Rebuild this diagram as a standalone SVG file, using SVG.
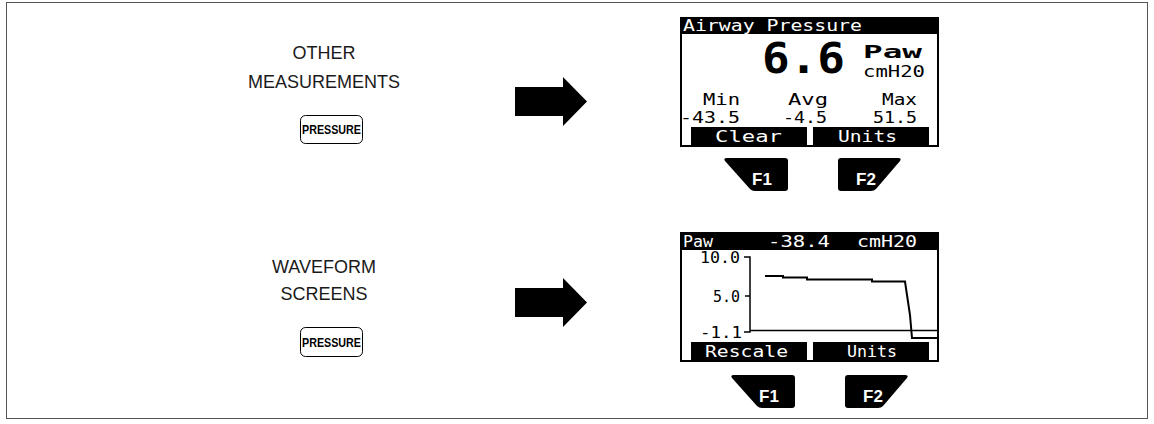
<svg xmlns="http://www.w3.org/2000/svg" width="1154" height="424" viewBox="0 0 1154 424">
<style>
.lbl{font-family:"Liberation Sans",Arial,sans-serif;font-size:18px;fill:#1a1a1a;text-anchor:middle}
.pb{font-family:"Liberation Sans",Arial,sans-serif;font-size:12.5px;font-weight:bold;fill:#000}
.mono{font-family:"DejaVu Sans Mono","Liberation Mono",monospace;font-size:15px;fill:#000}
.w{fill:#fff}
.fk{font-family:"Liberation Sans",Arial,sans-serif;font-size:17px;font-weight:bold;fill:#fff;text-anchor:middle}
.scr{fill:#fff;stroke:#000;stroke-width:2}
.ln{fill:none;stroke:#000;stroke-width:1.5}
.wave{fill:none;stroke:#000;stroke-width:2}
</style>
<defs>
<path id="f1" d="M727,158 H785 Q788,158 788,161 V188 Q788,191 785,191 H755 Q752,191 750,189 L725,161 Q723,158 727,158 Z"/>
<path id="f2" d="M841,158 H898 Q902,158 900,161 L876,189 Q874,191 871,191 H841 Q838,191 838,188 V161 Q838,158 841,158 Z"/>
<polygon id="arrow" points="515,87 563,87 563,77 587,101.5 563,126 563,116 515,116"/>
</defs>
<rect x="0" y="0" width="1154" height="424" fill="#fff"/>
<rect x="6.5" y="2.5" width="1141" height="416" fill="none" stroke="#555" stroke-width="1"/>

<g id="label-other">
<text class="lbl" x="324" y="59">OTHER</text>
<text class="lbl" x="324" y="88">MEASUREMENTS</text>
</g>
<g id="btn-pressure-1">
<rect x="300.5" y="115.5" width="62" height="28" rx="5" fill="#fff" stroke="#000" stroke-width="1"/>
<text class="pb" x="302" y="134" textLength="59" lengthAdjust="spacingAndGlyphs">PRESSURE</text>
</g>
<g id="label-waveform">
<text class="lbl" x="324" y="273">WAVEFORM</text>
<text class="lbl" x="324" y="300">SCREENS</text>
</g>
<g id="btn-pressure-2">
<rect x="300.5" y="327.5" width="62" height="29" rx="5" fill="#fff" stroke="#000" stroke-width="1"/>
<text class="pb" x="302" y="346.5" textLength="59" lengthAdjust="spacingAndGlyphs">PRESSURE</text>
</g>

<g id="connectors">
<use href="#arrow"/>
<use href="#arrow" transform="translate(0,201)"/>
</g>

<g id="screen-pressure">
<rect class="scr" x="681" y="18" width="257" height="128"/>
<rect x="680" y="17" width="259" height="17" fill="#000"/>
<text class="mono w" x="683" y="31" textLength="179" lengthAdjust="spacingAndGlyphs">Airway Pressure</text>
<text x="762" y="73" font-family="DejaVu Sans Mono,monospace" font-weight="bold" font-size="42" textLength="83" lengthAdjust="spacingAndGlyphs">6.6</text>
<text x="863" y="58" font-family="DejaVu Sans Mono,monospace" font-weight="bold" font-size="18" textLength="59" lengthAdjust="spacingAndGlyphs">Paw</text>
<text class="mono" x="863" y="77" textLength="62" lengthAdjust="spacingAndGlyphs">cmH20</text>
<text class="mono" x="703" y="105" textLength="37" lengthAdjust="spacingAndGlyphs">Min</text>
<text class="mono" x="788" y="105" textLength="40" lengthAdjust="spacingAndGlyphs">Avg</text>
<text class="mono" x="882" y="105" textLength="35" lengthAdjust="spacingAndGlyphs">Max</text>
<text class="mono" x="680" y="123" textLength="60" lengthAdjust="spacingAndGlyphs">-43.5</text>
<text class="mono" x="783" y="123" textLength="44" lengthAdjust="spacingAndGlyphs">-4.5</text>
<text class="mono" x="873" y="123" textLength="44" lengthAdjust="spacingAndGlyphs">51.5</text>
<rect x="691" y="127" width="116" height="19" fill="#000"/>
<rect x="813" y="127" width="116" height="19" fill="#000"/>
<text class="mono w" x="715" y="142" textLength="67" lengthAdjust="spacingAndGlyphs">Clear</text>
<text class="mono w" x="838" y="142" textLength="59" lengthAdjust="spacingAndGlyphs">Units</text>
</g>
<g id="fkeys-1">
<use href="#f1"/>
<use href="#f2"/>
<text class="fk" x="762" y="185">F1</text>
<text class="fk" x="866" y="185">F2</text>
</g>

<g id="screen-waveform">
<rect class="scr" x="681" y="233" width="257" height="128"/>
<rect x="680" y="232" width="259" height="18" fill="#000"/>
<text class="mono w" x="683" y="247" textLength="30" lengthAdjust="spacingAndGlyphs">Paw</text>
<text class="mono w" x="768" y="247" textLength="62" lengthAdjust="spacingAndGlyphs">-38.4</text>
<text class="mono w" x="857" y="247" textLength="60" lengthAdjust="spacingAndGlyphs">cmH20</text>
<text class="mono" x="700" y="263" textLength="40" lengthAdjust="spacingAndGlyphs">10.0</text>
<text class="mono" x="713" y="302" textLength="27" lengthAdjust="spacingAndGlyphs">5.0</text>
<text class="mono" x="700" y="338" textLength="42" lengthAdjust="spacingAndGlyphs">-1.1</text>
<path class="ln" d="M744,257 H750 V332 H744 M745,296 H750 M750,330.5 H938"/>
<path class="wave" d="M765,276 H783 V277.5 H807 V279.5 H872 V281.5 H905 L907,295 L910,315 L912,338 H938"/>
<rect x="691" y="342" width="116" height="19" fill="#000"/>
<rect x="813" y="342" width="116" height="19" fill="#000"/>
<text class="mono w" x="705" y="357" textLength="83" lengthAdjust="spacingAndGlyphs">Rescale</text>
<text class="mono w" x="847" y="357" textLength="50" lengthAdjust="spacingAndGlyphs">Units</text>
</g>
<g id="fkeys-2" transform="translate(7,217)">
<use href="#f1"/>
<use href="#f2"/>
<text class="fk" x="762" y="185">F1</text>
<text class="fk" x="866" y="185">F2</text>
</g>
</svg>
